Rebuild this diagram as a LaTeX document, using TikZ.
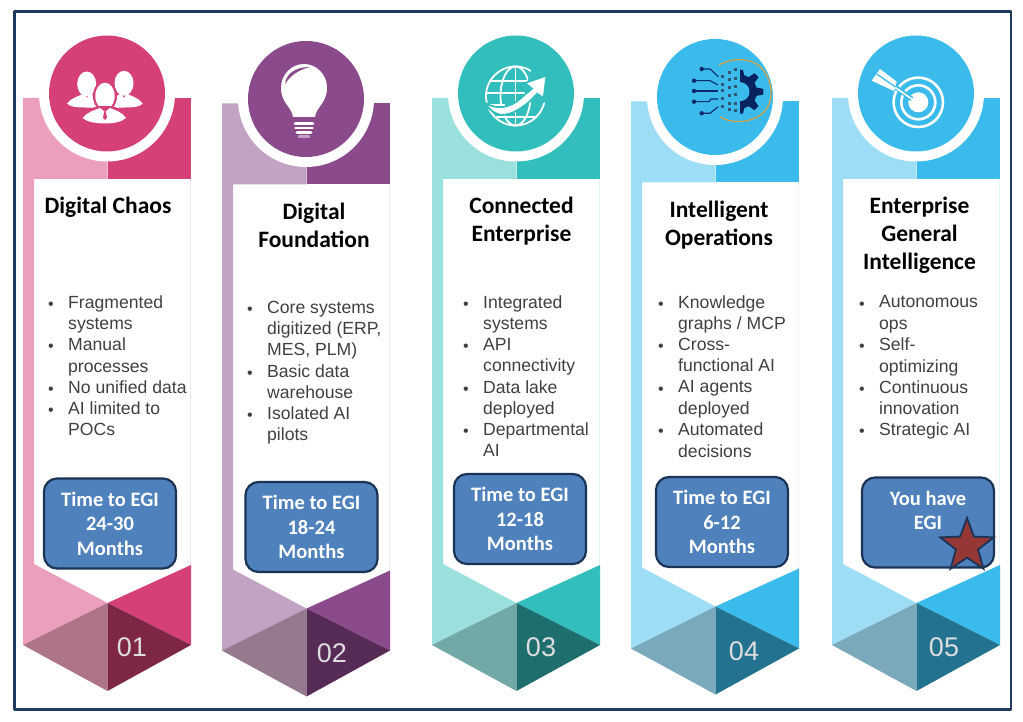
\documentclass[tikz,border=0pt]{standalone}
\usepackage{fontspec}
\setmainfont{Liberation Sans}
\newfontfamily\carl{Carlito}
\usetikzlibrary{shapes.geometric}
\definecolor{framec}{HTML}{1F3A5F}
\definecolor{boxc}{HTML}{4F81BD}
\definecolor{boxe}{HTML}{1B3355}
\definecolor{starc}{HTML}{953735}
\definecolor{pinkD}{HTML}{D64078}\definecolor{pinkL}{HTML}{EC9FBC}\definecolor{pinkG}{HTML}{AE7489}\definecolor{pinkK}{HTML}{7E2646}\definecolor{pinkE}{HTML}{F9E3EC}
\definecolor{purD}{HTML}{8A4A8C}\definecolor{purL}{HTML}{C3A3C4}\definecolor{purG}{HTML}{94798F}\definecolor{purK}{HTML}{562B55}\definecolor{purE}{HTML}{EFE4EF}
\definecolor{teaD}{HTML}{33BEBE}\definecolor{teaL}{HTML}{9AE0DC}\definecolor{teaG}{HTML}{72A8A6}\definecolor{teaK}{HTML}{1E6E6E}\definecolor{teaE}{HTML}{E2F6F5}
\definecolor{bluD}{HTML}{3ABBEB}\definecolor{bluL}{HTML}{9EDDF6}\definecolor{bluG}{HTML}{79A9BB}\definecolor{bluK}{HTML}{23728F}\definecolor{bluE}{HTML}{E4F5FC}
\definecolor{navy}{HTML}{0B2A6B}
\definecolor{gearc}{HTML}{06225F}
\definecolor{gridc}{HTML}{33576F}
\definecolor{orangec}{HTML}{D9A245}
\definecolor{numc}{HTML}{DDDDDD}
\definecolor{bodyc}{HTML}{404040}
\tikzset{
  titletext/.style={font=\carl\bfseries\fontsize{23.5}{28}\selectfont,align=center,text=black,inner sep=0pt},
  listtext/.style={font=\fontsize{17.6}{21.2}\selectfont,align=left,anchor=north west,text=bodyc,inner sep=0pt},
  dotmark/.style={font=\fontsize{16}{16}\selectfont,anchor=center,text=bodyc,inner sep=0pt},
  timebox/.style={draw=boxe,line width=2.2pt,fill=boxc,rounded corners=13pt,minimum width=132pt,minimum height=90pt,inner sep=0pt},
  boxtext/.style={font=\carl\bfseries\fontsize{20.5}{24.6}\selectfont,align=center,text=white,inner sep=0pt},
  numtext/.style={font=\fontsize{27}{27}\selectfont,text=numc,inner sep=0pt},
}
\newcommand{\ribbon}[3]{%
\begin{scope}[shift={(#1,#2)}]
  \fill[#3L] (23,98) -- (107.5,98) -- (107.5,179) -- (34,179) -- (34,564) -- (107.5,603) -- (23,645) -- cycle;
  \fill[#3D] (107.5,98) -- (191,98) -- (191,179) -- (107.5,179) -- cycle;
  \draw[#3E,line width=.8pt] (190.6,179) -- (190.6,565);
  \fill[#3D] (107.5,603) -- (191,565) -- (191,645) -- cycle;
  \fill[#3G] (23,645) -- (107.5,603) -- (107.5,691) -- cycle;
  \fill[#3K] (107.5,603) -- (191,645) -- (107.5,691) -- cycle;
  \fill[white] (107,93.5) circle[radius=68];
  \fill[#3D] (107,93.5) circle[radius=58];
\end{scope}}
\newcommand{\lst}[4]{%
  \node[dotmark] (#1d) at (#2-17,#3+10) {•};
  \node[listtext] (#1) at (#2,#3) {#4};}
\begin{document}
\begin{tikzpicture}[x=1pt,y=-1pt]
\useasboundingbox (0,0) rectangle (1023,722);
\fill[white] (0,0) rectangle (1023,722);
\draw[framec,line width=2.6pt,line join=round] (14.5,11.5) rectangle (1011,709.5);

\ribbon{0}{0}{pink}
\ribbon{199}{5.5}{pur}
\ribbon{409}{0}{tea}
\ribbon{608}{3.5}{blu}
\ribbon{809}{0}{blu}

% people icon
\begin{scope}[white]
  \fill (86.7,84) ellipse[x radius=9.5,y radius=12.5];
  \fill (124,83.3) ellipse[x radius=9.5,y radius=12.5];
  \fill (67,103.5) .. controls (71,98) and (79,96) .. (84,93.5) -- (87,98) -- (90,93.5) -- (98,98) -- (98,108) -- (85,107.5) .. controls (77,107.5) and (70,107) .. (67,103.5) -- cycle;
  \fill (142.7,103.5) .. controls (139,98) and (131,96) .. (127,93.5) -- (124,98) -- (121,93.5) -- (113,98) -- (113,108) -- (125,107.5) .. controls (133,107.5) and (140,107) .. (142.7,103.5) -- cycle;
  \fill[pinkD] (105,96) ellipse[x radius=12,y radius=15.5];
  \fill (105,96) ellipse[x radius=9.7,y radius=13.3];
  \fill[pinkD] (78,122) .. controls (85,108) and (95,106) .. (105,106) .. controls (115,106) and (125,108) .. (131,122) -- (105,127) -- cycle;
  \fill (82.5,118) .. controls (87,112) and (95,110) .. (100,108) -- (105,112) -- (110,108) .. controls (115,110) and (122,112) .. (126,118) .. controls (122,122) and (113,123.5) .. (105,123.5) .. controls (96,123.5) and (87,122) .. (82.5,118) -- cycle;
  \fill[pinkD] (104.2,111.5) -- (105.8,111.5) -- (107,118) -- (105,120) -- (103,118) -- cycle;
\end{scope}

% bulb icon
\fill[white] (293,117) .. controls (292,107) and (281,103) .. (281,88) .. controls (281,74) and (292,64) .. (304,64) .. controls (316,64) and (327,74) .. (327,88) .. controls (327,103) and (316,107) .. (315,117) -- cycle;
\fill[purD] (285,84) .. controls (286,74) and (295,67) .. (310,67) .. controls (298,70) and (290,76) .. (285,84) -- cycle;
\draw[white,line width=2.6pt,line cap=round] (295,123.5) -- (313,123.5) (295.5,128) -- (312.5,128) (297,132.5) -- (311,132.5);
\draw[purL,line width=2.6pt,line cap=round] (299,136.5) -- (309,136.5);

% globe icon
\begin{scope}[white,line width=1.8pt]
  \draw (515.5,96) circle[radius=29.5];
  \draw (515.5,96) ellipse[x radius=15,y radius=29.5];
  \draw (515.5,66.5) -- (515.5,125.5);
  \draw (489,81) -- (538,81) (486.5,93) -- (528,93) (488,105) -- (505,105) (496,117) -- (536,117);
\end{scope}
\fill[teaD] (532,68) -- (550,68) -- (552,100) -- (540,104) -- (524,92) -- cycle;
\fill[white,draw=teaD,line width=1.8pt] (485.3,103) .. controls (497,110) and (510,108) .. (521,98) .. controls (525,94) and (529,91.5) .. (532,88.7) -- (525,83) -- (546.5,75.5) -- (543.7,98) -- (537,93.7) .. controls (532,100) and (527,104) .. (521,108) .. controls (515,112) and (510,114) .. (504.7,114.7) .. controls (499,116) and (490,112) .. (485.3,103) -- cycle;

% circuit-gear icon
\begin{scope}[navy,line width=1.1pt]
  \draw (701.7,69) -- (710,69) -- (718.3,76.7);
  \draw (694,80.7) -- (710,80.7) -- (718,85);
  \draw (694,91) -- (718,91);
  \draw (694,101.7) -- (709,101.7) -- (711,99) -- (718,99);
  \draw (701.7,113.3) -- (710,113.3) -- (718.3,106.7);
  \fill (701.7,69) circle[radius=2.2] (694,80.7) circle[radius=2.2] (694,91) circle[radius=2.2] (694,101.7) circle[radius=2.2] (701.7,113.3) circle[radius=2.2];
\end{scope}
\draw[orangec,line width=1.2pt] (719,65) .. controls (735,56) and (760,57) .. (768,78) .. controls (775,95) and (770,112) .. (755,118) .. controls (742,124) and (728,122) .. (720,116.7);
\begin{scope}[shift={(740,91.7)}]
  \fill[gearc] (-90:22) -- (-82:22) -- (-76:17) -- (-59:17) -- (-52:23.5) -- (-38:23.5) -- (-31:17) -- (-14:17) -- (-7:23.5) -- (7:23.5) -- (14:17) -- (31:17) -- (38:23.5) -- (52:23.5) -- (59:17) -- (76:17) -- (82:22) -- (90:22) -- cycle;
  \fill[bluD] (0,0) circle[radius=9.5];
\end{scope}
\foreach \dotx/\doty in {722.3/76.7,722.3/85,722.3/91,722.3/99,722.3/106.7,729/72.3,729/80,729/87.7,729/95.7,729/104,729/110,735.5/70,735.5/78.3,735.5/86.7,735.5/95,735.5/103.3,735.5/111}
  \fill[gridc] (\dotx-1.5,\doty-1.5) rectangle (\dotx+1.5,\doty+1.5);

% target icon
\begin{scope}[white]
  \draw[line width=2.6pt] (918.3,102.3) circle[radius=24.7];
  \draw[line width=2.6pt] (918.3,102.3) circle[radius=17];
  \fill (918.3,102.3) circle[radius=10];
  \draw[bluD,line width=4.5pt] (896,87.5) -- (912,99);
  \draw[line width=1.6pt] (893,86) -- (914.3,100.7);
  \fill (880,69) -- (896.7,81.7) -- (894,91) -- (871.7,80.7) -- cycle;
  \draw[bluD,line width=1.3pt] (876.7,74) -- (895.5,87);
\end{scope}

% titles
\node[titletext] (t1) at (108,207) {Digital Chaos};
\node[titletext] (t2) at (314,225) {Digital\\Foundation};
\node[titletext] (t3) at (521.5,221.5) {Connected\\Enterprise};
\node[titletext] (t4) at (719,225) {Intelligent\\Operations};
\node[titletext] (t5) at (919.5,235) {Enterprise\\General\\Intelligence};

% lists
\lst{a1}{68}{295.5}{Fragmented\\systems}
\lst{a2}{68}{338}{Manual\\processes}
\lst{a3}{68}{380.5}{No unified data}
\lst{a4}{68}{401.5}{AI limited to\\POCs}

\lst{b1}{267}{301}{Core systems\\digitized (ERP,\\MES, PLM)}
\lst{b2}{267}{364.5}{Basic data\\warehouse}
\lst{b3}{267}{406.5}{Isolated AI\\pilots}

\lst{c1}{483}{295.5}{Integrated\\systems}
\lst{c2}{483}{338}{API\\connectivity}
\lst{c3}{483}{380.5}{Data lake\\deployed}
\lst{c4}{483}{422.5}{Departmental\\AI}

\lst{d1}{678}{295.5}{Knowledge\\graphs / MCP}
\lst{d2}{678}{338}{Cross-\\functional AI}
\lst{d3}{678}{380.5}{AI agents\\deployed}
\lst{d4}{678}{423}{Automated\\decisions}

\lst{e1}{879}{295.5}{Autonomous\\ops}
\lst{e2}{879}{338}{Self-\\optimizing}
\lst{e3}{879}{380.5}{Continuous\\innovation}
\lst{e4}{879}{422.5}{Strategic AI}

% time boxes
\node[timebox] (b1) at (110,523.5) {};
\node[boxtext] (b1t) at (b1) {Time to EGI\\24-30\\Months};
\node[timebox] (b2) at (311.5,527) {};
\node[boxtext] (b2t) at (b2) {Time to EGI\\18-24\\Months};
\node[timebox] (b3) at (520,519) {};
\node[boxtext] (b3t) at (b3) {Time to EGI\\12-18\\Months};
\node[timebox] (b4) at (722,522) {};
\node[boxtext] (b4t) at (b4) {Time to EGI\\6-12\\Months};
\node[timebox] (b5) at (928,522.5) {};
\node[boxtext] (b5t) at (928,510.5) {You have\\EGI};
\node[star,star points=5,star point ratio=2.4,draw=boxe,fill=starc,line width=1.8pt,minimum size=56pt,inner sep=0pt] (s5) at (967,546) {};

% numbers
\node[numtext] (n1) at (132,647) {01};
\node[numtext] (n2) at (332,653) {02};
\node[numtext] (n3) at (541,647) {03};
\node[numtext] (n4) at (744,651) {04};
\node[numtext] (n5) at (944,647) {05};
\end{tikzpicture}
\end{document}
